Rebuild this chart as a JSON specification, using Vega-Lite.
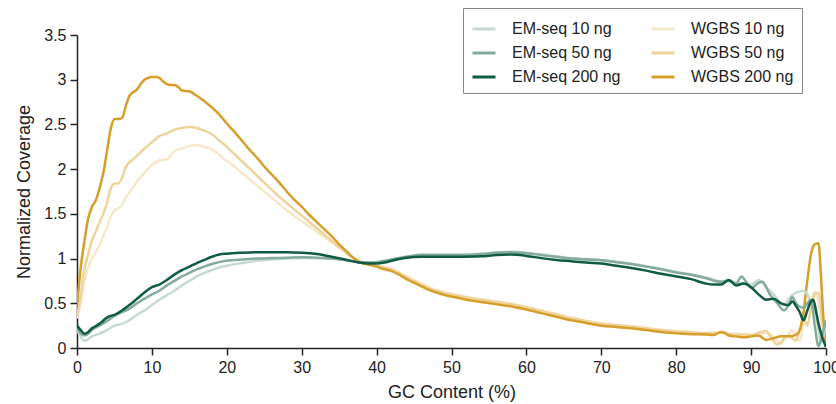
{
  "$schema": "https://vega.github.io/schema/vega-lite/v6.json",
  "width": 749,
  "height": 313,
  "autosize": {"type": "none"},
  "padding": {"left": 77, "top": 35, "right": 10, "bottom": 56},
  "background": "white",
  "config": {
    "font": "Liberation Sans",
    "view": {"stroke": null},
    "axis": {
      "grid": false,
      "domainColor": "#222",
      "domainWidth": 1.5,
      "tickColor": "#222",
      "tickWidth": 1.5,
      "tickSize": 7,
      "labelFontSize": 16,
      "labelColor": "#222",
      "titleFontSize": 18,
      "titleFontWeight": "normal",
      "titleColor": "#222",
      "labelFont": "Liberation Sans",
      "titleFont": "Liberation Sans",
      "labelFlush": false,
      "labelOverlap": false
    }
  },
  "data": {"values": [
    {"s":"WGBS 10 ng","x":0,"y":0.33},{"s":"WGBS 10 ng","x":0.5,"y":0.5},{"s":"WGBS 10 ng","x":1,"y":0.75},{"s":"WGBS 10 ng","x":1.5,"y":0.9},{"s":"WGBS 10 ng","x":2,"y":1.0},{"s":"WGBS 10 ng","x":2.5,"y":1.07},{"s":"WGBS 10 ng","x":3,"y":1.15},{"s":"WGBS 10 ng","x":3.5,"y":1.25},{"s":"WGBS 10 ng","x":4,"y":1.35},{"s":"WGBS 10 ng","x":4.5,"y":1.47},{"s":"WGBS 10 ng","x":5,"y":1.54},{"s":"WGBS 10 ng","x":5.5,"y":1.56},{"s":"WGBS 10 ng","x":6,"y":1.6},{"s":"WGBS 10 ng","x":6.5,"y":1.68},{"s":"WGBS 10 ng","x":7,"y":1.74},{"s":"WGBS 10 ng","x":7.5,"y":1.8},{"s":"WGBS 10 ng","x":8,"y":1.86},{"s":"WGBS 10 ng","x":9,"y":1.96},{"s":"WGBS 10 ng","x":10,"y":2.05},{"s":"WGBS 10 ng","x":11,"y":2.1},{"s":"WGBS 10 ng","x":12,"y":2.11},{"s":"WGBS 10 ng","x":13,"y":2.2},{"s":"WGBS 10 ng","x":14,"y":2.23},{"s":"WGBS 10 ng","x":15,"y":2.26},{"s":"WGBS 10 ng","x":16,"y":2.27},{"s":"WGBS 10 ng","x":17,"y":2.25},{"s":"WGBS 10 ng","x":18,"y":2.22},{"s":"WGBS 10 ng","x":19,"y":2.16},{"s":"WGBS 10 ng","x":20,"y":2.09},{"s":"WGBS 10 ng","x":21,"y":2.03},{"s":"WGBS 10 ng","x":22,"y":1.96},{"s":"WGBS 10 ng","x":23,"y":1.89},{"s":"WGBS 10 ng","x":24,"y":1.82},{"s":"WGBS 10 ng","x":25,"y":1.75},{"s":"WGBS 10 ng","x":26,"y":1.68},{"s":"WGBS 10 ng","x":27,"y":1.61},{"s":"WGBS 10 ng","x":28,"y":1.54},{"s":"WGBS 10 ng","x":29,"y":1.48},{"s":"WGBS 10 ng","x":30,"y":1.42},{"s":"WGBS 10 ng","x":31,"y":1.36},{"s":"WGBS 10 ng","x":32,"y":1.3},{"s":"WGBS 10 ng","x":33,"y":1.24},{"s":"WGBS 10 ng","x":34,"y":1.18},{"s":"WGBS 10 ng","x":35,"y":1.12},{"s":"WGBS 10 ng","x":36,"y":1.06},{"s":"WGBS 10 ng","x":37,"y":1.0},{"s":"WGBS 10 ng","x":38,"y":0.96},{"s":"WGBS 10 ng","x":39,"y":0.945},{"s":"WGBS 10 ng","x":40,"y":0.925},{"s":"WGBS 10 ng","x":41,"y":0.905},{"s":"WGBS 10 ng","x":42,"y":0.885},{"s":"WGBS 10 ng","x":43,"y":0.845},{"s":"WGBS 10 ng","x":44,"y":0.8},{"s":"WGBS 10 ng","x":45,"y":0.76},{"s":"WGBS 10 ng","x":46,"y":0.72},{"s":"WGBS 10 ng","x":47,"y":0.68},{"s":"WGBS 10 ng","x":48,"y":0.65},{"s":"WGBS 10 ng","x":49,"y":0.625},{"s":"WGBS 10 ng","x":50,"y":0.605},{"s":"WGBS 10 ng","x":52,"y":0.57},{"s":"WGBS 10 ng","x":54,"y":0.545},{"s":"WGBS 10 ng","x":56,"y":0.52},{"s":"WGBS 10 ng","x":58,"y":0.495},{"s":"WGBS 10 ng","x":60,"y":0.46},{"s":"WGBS 10 ng","x":62,"y":0.42},{"s":"WGBS 10 ng","x":64,"y":0.38},{"s":"WGBS 10 ng","x":66,"y":0.34},{"s":"WGBS 10 ng","x":68,"y":0.305},{"s":"WGBS 10 ng","x":70,"y":0.275},{"s":"WGBS 10 ng","x":72,"y":0.26},{"s":"WGBS 10 ng","x":74,"y":0.245},{"s":"WGBS 10 ng","x":76,"y":0.225},{"s":"WGBS 10 ng","x":78,"y":0.205},{"s":"WGBS 10 ng","x":80,"y":0.19},{"s":"WGBS 10 ng","x":82,"y":0.18},{"s":"WGBS 10 ng","x":84,"y":0.17},{"s":"WGBS 10 ng","x":86,"y":0.175},{"s":"WGBS 10 ng","x":87,"y":0.16},{"s":"WGBS 10 ng","x":88,"y":0.16},{"s":"WGBS 10 ng","x":89,"y":0.155},{"s":"WGBS 10 ng","x":90,"y":0.15},{"s":"WGBS 10 ng","x":91,"y":0.16},{"s":"WGBS 10 ng","x":92,"y":0.17},{"s":"WGBS 10 ng","x":93,"y":0.12},{"s":"WGBS 10 ng","x":94,"y":0.05},{"s":"WGBS 10 ng","x":94.5,"y":0.1},{"s":"WGBS 10 ng","x":95,"y":0.15},{"s":"WGBS 10 ng","x":95.5,"y":0.2},{"s":"WGBS 10 ng","x":96,"y":0.12},{"s":"WGBS 10 ng","x":96.5,"y":0.08},{"s":"WGBS 10 ng","x":97,"y":0.28},{"s":"WGBS 10 ng","x":97.5,"y":0.4},{"s":"WGBS 10 ng","x":98,"y":0.55},{"s":"WGBS 10 ng","x":98.5,"y":0.63},{"s":"WGBS 10 ng","x":99,"y":0.5},{"s":"WGBS 10 ng","x":99.5,"y":0.2},{"s":"WGBS 10 ng","x":100,"y":0.02},

    {"s":"WGBS 50 ng","x":0,"y":0.35},{"s":"WGBS 50 ng","x":0.5,"y":0.6},{"s":"WGBS 50 ng","x":1,"y":0.88},{"s":"WGBS 50 ng","x":1.5,"y":1.05},{"s":"WGBS 50 ng","x":2,"y":1.2},{"s":"WGBS 50 ng","x":2.5,"y":1.3},{"s":"WGBS 50 ng","x":3,"y":1.4},{"s":"WGBS 50 ng","x":3.5,"y":1.5},{"s":"WGBS 50 ng","x":4,"y":1.62},{"s":"WGBS 50 ng","x":4.5,"y":1.78},{"s":"WGBS 50 ng","x":5,"y":1.84},{"s":"WGBS 50 ng","x":5.5,"y":1.84},{"s":"WGBS 50 ng","x":6,"y":1.9},{"s":"WGBS 50 ng","x":6.5,"y":2.02},{"s":"WGBS 50 ng","x":7,"y":2.08},{"s":"WGBS 50 ng","x":7.5,"y":2.11},{"s":"WGBS 50 ng","x":8,"y":2.15},{"s":"WGBS 50 ng","x":9,"y":2.23},{"s":"WGBS 50 ng","x":10,"y":2.3},{"s":"WGBS 50 ng","x":11,"y":2.37},{"s":"WGBS 50 ng","x":12,"y":2.4},{"s":"WGBS 50 ng","x":13,"y":2.44},{"s":"WGBS 50 ng","x":14,"y":2.46},{"s":"WGBS 50 ng","x":15,"y":2.47},{"s":"WGBS 50 ng","x":16,"y":2.46},{"s":"WGBS 50 ng","x":17,"y":2.43},{"s":"WGBS 50 ng","x":18,"y":2.39},{"s":"WGBS 50 ng","x":19,"y":2.32},{"s":"WGBS 50 ng","x":20,"y":2.25},{"s":"WGBS 50 ng","x":21,"y":2.17},{"s":"WGBS 50 ng","x":22,"y":2.09},{"s":"WGBS 50 ng","x":23,"y":2.01},{"s":"WGBS 50 ng","x":24,"y":1.93},{"s":"WGBS 50 ng","x":25,"y":1.85},{"s":"WGBS 50 ng","x":26,"y":1.77},{"s":"WGBS 50 ng","x":27,"y":1.69},{"s":"WGBS 50 ng","x":28,"y":1.62},{"s":"WGBS 50 ng","x":29,"y":1.55},{"s":"WGBS 50 ng","x":30,"y":1.48},{"s":"WGBS 50 ng","x":31,"y":1.41},{"s":"WGBS 50 ng","x":32,"y":1.34},{"s":"WGBS 50 ng","x":33,"y":1.27},{"s":"WGBS 50 ng","x":34,"y":1.2},{"s":"WGBS 50 ng","x":35,"y":1.13},{"s":"WGBS 50 ng","x":36,"y":1.06},{"s":"WGBS 50 ng","x":37,"y":1.0},{"s":"WGBS 50 ng","x":38,"y":0.96},{"s":"WGBS 50 ng","x":39,"y":0.94},{"s":"WGBS 50 ng","x":40,"y":0.92},{"s":"WGBS 50 ng","x":41,"y":0.9},{"s":"WGBS 50 ng","x":42,"y":0.88},{"s":"WGBS 50 ng","x":43,"y":0.84},{"s":"WGBS 50 ng","x":44,"y":0.79},{"s":"WGBS 50 ng","x":45,"y":0.75},{"s":"WGBS 50 ng","x":46,"y":0.71},{"s":"WGBS 50 ng","x":47,"y":0.67},{"s":"WGBS 50 ng","x":48,"y":0.64},{"s":"WGBS 50 ng","x":49,"y":0.62},{"s":"WGBS 50 ng","x":50,"y":0.6},{"s":"WGBS 50 ng","x":52,"y":0.565},{"s":"WGBS 50 ng","x":54,"y":0.54},{"s":"WGBS 50 ng","x":56,"y":0.515},{"s":"WGBS 50 ng","x":58,"y":0.49},{"s":"WGBS 50 ng","x":60,"y":0.455},{"s":"WGBS 50 ng","x":62,"y":0.415},{"s":"WGBS 50 ng","x":64,"y":0.375},{"s":"WGBS 50 ng","x":66,"y":0.335},{"s":"WGBS 50 ng","x":68,"y":0.3},{"s":"WGBS 50 ng","x":70,"y":0.27},{"s":"WGBS 50 ng","x":72,"y":0.255},{"s":"WGBS 50 ng","x":74,"y":0.24},{"s":"WGBS 50 ng","x":76,"y":0.22},{"s":"WGBS 50 ng","x":78,"y":0.2},{"s":"WGBS 50 ng","x":80,"y":0.185},{"s":"WGBS 50 ng","x":82,"y":0.175},{"s":"WGBS 50 ng","x":84,"y":0.165},{"s":"WGBS 50 ng","x":86,"y":0.17},{"s":"WGBS 50 ng","x":87,"y":0.155},{"s":"WGBS 50 ng","x":88,"y":0.15},{"s":"WGBS 50 ng","x":89,"y":0.15},{"s":"WGBS 50 ng","x":90,"y":0.14},{"s":"WGBS 50 ng","x":91,"y":0.17},{"s":"WGBS 50 ng","x":92,"y":0.19},{"s":"WGBS 50 ng","x":92.5,"y":0.14},{"s":"WGBS 50 ng","x":93,"y":0.08},{"s":"WGBS 50 ng","x":93.5,"y":0.04},{"s":"WGBS 50 ng","x":94,"y":0.06},{"s":"WGBS 50 ng","x":94.5,"y":0.12},{"s":"WGBS 50 ng","x":95,"y":0.13},{"s":"WGBS 50 ng","x":95.5,"y":0.11},{"s":"WGBS 50 ng","x":96,"y":0.08},{"s":"WGBS 50 ng","x":96.5,"y":0.2},{"s":"WGBS 50 ng","x":97,"y":0.34},{"s":"WGBS 50 ng","x":97.5,"y":0.25},{"s":"WGBS 50 ng","x":98,"y":0.45},{"s":"WGBS 50 ng","x":98.5,"y":0.6},{"s":"WGBS 50 ng","x":99,"y":0.62},{"s":"WGBS 50 ng","x":99.5,"y":0.3},{"s":"WGBS 50 ng","x":100,"y":0.02},

    {"s":"WGBS 200 ng","x":0,"y":0.47},{"s":"WGBS 200 ng","x":0.5,"y":0.9},{"s":"WGBS 200 ng","x":1,"y":1.2},{"s":"WGBS 200 ng","x":1.5,"y":1.45},{"s":"WGBS 200 ng","x":2,"y":1.58},{"s":"WGBS 200 ng","x":2.5,"y":1.65},{"s":"WGBS 200 ng","x":3,"y":1.78},{"s":"WGBS 200 ng","x":3.5,"y":1.95},{"s":"WGBS 200 ng","x":4,"y":2.2},{"s":"WGBS 200 ng","x":4.5,"y":2.45},{"s":"WGBS 200 ng","x":5,"y":2.56},{"s":"WGBS 200 ng","x":5.5,"y":2.56},{"s":"WGBS 200 ng","x":6,"y":2.57},{"s":"WGBS 200 ng","x":6.5,"y":2.7},{"s":"WGBS 200 ng","x":7,"y":2.82},{"s":"WGBS 200 ng","x":7.5,"y":2.86},{"s":"WGBS 200 ng","x":8,"y":2.89},{"s":"WGBS 200 ng","x":8.5,"y":2.95},{"s":"WGBS 200 ng","x":9,"y":3.0},{"s":"WGBS 200 ng","x":9.5,"y":3.02},{"s":"WGBS 200 ng","x":10,"y":3.03},{"s":"WGBS 200 ng","x":10.5,"y":3.03},{"s":"WGBS 200 ng","x":11,"y":3.02},{"s":"WGBS 200 ng","x":11.5,"y":2.98},{"s":"WGBS 200 ng","x":12,"y":2.95},{"s":"WGBS 200 ng","x":12.5,"y":2.94},{"s":"WGBS 200 ng","x":13,"y":2.94},{"s":"WGBS 200 ng","x":13.5,"y":2.92},{"s":"WGBS 200 ng","x":14,"y":2.88},{"s":"WGBS 200 ng","x":15,"y":2.87},{"s":"WGBS 200 ng","x":16,"y":2.82},{"s":"WGBS 200 ng","x":17,"y":2.76},{"s":"WGBS 200 ng","x":18,"y":2.69},{"s":"WGBS 200 ng","x":19,"y":2.61},{"s":"WGBS 200 ng","x":20,"y":2.51},{"s":"WGBS 200 ng","x":21,"y":2.42},{"s":"WGBS 200 ng","x":22,"y":2.32},{"s":"WGBS 200 ng","x":23,"y":2.22},{"s":"WGBS 200 ng","x":24,"y":2.13},{"s":"WGBS 200 ng","x":25,"y":2.03},{"s":"WGBS 200 ng","x":26,"y":1.94},{"s":"WGBS 200 ng","x":27,"y":1.85},{"s":"WGBS 200 ng","x":28,"y":1.75},{"s":"WGBS 200 ng","x":29,"y":1.66},{"s":"WGBS 200 ng","x":30,"y":1.58},{"s":"WGBS 200 ng","x":31,"y":1.49},{"s":"WGBS 200 ng","x":32,"y":1.41},{"s":"WGBS 200 ng","x":33,"y":1.33},{"s":"WGBS 200 ng","x":34,"y":1.25},{"s":"WGBS 200 ng","x":35,"y":1.16},{"s":"WGBS 200 ng","x":36,"y":1.08},{"s":"WGBS 200 ng","x":37,"y":1.0},{"s":"WGBS 200 ng","x":38,"y":0.95},{"s":"WGBS 200 ng","x":39,"y":0.93},{"s":"WGBS 200 ng","x":40,"y":0.91},{"s":"WGBS 200 ng","x":41,"y":0.88},{"s":"WGBS 200 ng","x":42,"y":0.86},{"s":"WGBS 200 ng","x":43,"y":0.82},{"s":"WGBS 200 ng","x":44,"y":0.77},{"s":"WGBS 200 ng","x":45,"y":0.73},{"s":"WGBS 200 ng","x":46,"y":0.69},{"s":"WGBS 200 ng","x":47,"y":0.65},{"s":"WGBS 200 ng","x":48,"y":0.62},{"s":"WGBS 200 ng","x":49,"y":0.595},{"s":"WGBS 200 ng","x":50,"y":0.575},{"s":"WGBS 200 ng","x":52,"y":0.54},{"s":"WGBS 200 ng","x":54,"y":0.515},{"s":"WGBS 200 ng","x":56,"y":0.49},{"s":"WGBS 200 ng","x":58,"y":0.465},{"s":"WGBS 200 ng","x":60,"y":0.43},{"s":"WGBS 200 ng","x":62,"y":0.39},{"s":"WGBS 200 ng","x":64,"y":0.35},{"s":"WGBS 200 ng","x":66,"y":0.31},{"s":"WGBS 200 ng","x":68,"y":0.28},{"s":"WGBS 200 ng","x":70,"y":0.25},{"s":"WGBS 200 ng","x":72,"y":0.235},{"s":"WGBS 200 ng","x":74,"y":0.22},{"s":"WGBS 200 ng","x":76,"y":0.2},{"s":"WGBS 200 ng","x":78,"y":0.18},{"s":"WGBS 200 ng","x":80,"y":0.165},{"s":"WGBS 200 ng","x":82,"y":0.155},{"s":"WGBS 200 ng","x":84,"y":0.15},{"s":"WGBS 200 ng","x":85,"y":0.145},{"s":"WGBS 200 ng","x":86,"y":0.18},{"s":"WGBS 200 ng","x":86.5,"y":0.17},{"s":"WGBS 200 ng","x":87,"y":0.14},{"s":"WGBS 200 ng","x":88,"y":0.13},{"s":"WGBS 200 ng","x":89,"y":0.12},{"s":"WGBS 200 ng","x":90,"y":0.13},{"s":"WGBS 200 ng","x":91,"y":0.14},{"s":"WGBS 200 ng","x":92,"y":0.09},{"s":"WGBS 200 ng","x":93,"y":0.11},{"s":"WGBS 200 ng","x":94,"y":0.13},{"s":"WGBS 200 ng","x":95,"y":0.13},{"s":"WGBS 200 ng","x":96,"y":0.15},{"s":"WGBS 200 ng","x":96.5,"y":0.2},{"s":"WGBS 200 ng","x":97,"y":0.4},{"s":"WGBS 200 ng","x":97.5,"y":0.75},{"s":"WGBS 200 ng","x":98,"y":1.05},{"s":"WGBS 200 ng","x":98.5,"y":1.16},{"s":"WGBS 200 ng","x":99,"y":1.17},{"s":"WGBS 200 ng","x":99.3,"y":0.85},{"s":"WGBS 200 ng","x":99.6,"y":0.4},{"s":"WGBS 200 ng","x":100,"y":0.02},

    {"s":"EM-seq 10 ng","x":0,"y":0.2},{"s":"EM-seq 10 ng","x":0.5,"y":0.13},{"s":"EM-seq 10 ng","x":1,"y":0.08},{"s":"EM-seq 10 ng","x":1.5,"y":0.1},{"s":"EM-seq 10 ng","x":2,"y":0.13},{"s":"EM-seq 10 ng","x":3,"y":0.16},{"s":"EM-seq 10 ng","x":4,"y":0.2},{"s":"EM-seq 10 ng","x":5,"y":0.25},{"s":"EM-seq 10 ng","x":6,"y":0.27},{"s":"EM-seq 10 ng","x":7,"y":0.31},{"s":"EM-seq 10 ng","x":8,"y":0.37},{"s":"EM-seq 10 ng","x":9,"y":0.42},{"s":"EM-seq 10 ng","x":10,"y":0.48},{"s":"EM-seq 10 ng","x":11,"y":0.54},{"s":"EM-seq 10 ng","x":12,"y":0.59},{"s":"EM-seq 10 ng","x":13,"y":0.64},{"s":"EM-seq 10 ng","x":14,"y":0.7},{"s":"EM-seq 10 ng","x":15,"y":0.75},{"s":"EM-seq 10 ng","x":16,"y":0.8},{"s":"EM-seq 10 ng","x":17,"y":0.84},{"s":"EM-seq 10 ng","x":18,"y":0.87},{"s":"EM-seq 10 ng","x":19,"y":0.9},{"s":"EM-seq 10 ng","x":20,"y":0.92},{"s":"EM-seq 10 ng","x":22,"y":0.95},{"s":"EM-seq 10 ng","x":24,"y":0.975},{"s":"EM-seq 10 ng","x":26,"y":0.99},{"s":"EM-seq 10 ng","x":28,"y":1.0},{"s":"EM-seq 10 ng","x":30,"y":1.005},{"s":"EM-seq 10 ng","x":32,"y":1.005},{"s":"EM-seq 10 ng","x":34,"y":1.0},{"s":"EM-seq 10 ng","x":36,"y":0.98},{"s":"EM-seq 10 ng","x":37.5,"y":0.96},{"s":"EM-seq 10 ng","x":39,"y":0.955},{"s":"EM-seq 10 ng","x":40,"y":0.96},{"s":"EM-seq 10 ng","x":42,"y":0.99},{"s":"EM-seq 10 ng","x":44,"y":1.02},{"s":"EM-seq 10 ng","x":46,"y":1.045},{"s":"EM-seq 10 ng","x":48,"y":1.045},{"s":"EM-seq 10 ng","x":50,"y":1.045},{"s":"EM-seq 10 ng","x":52,"y":1.045},{"s":"EM-seq 10 ng","x":54,"y":1.055},{"s":"EM-seq 10 ng","x":56,"y":1.07},{"s":"EM-seq 10 ng","x":58,"y":1.075},{"s":"EM-seq 10 ng","x":60,"y":1.065},{"s":"EM-seq 10 ng","x":62,"y":1.045},{"s":"EM-seq 10 ng","x":64,"y":1.025},{"s":"EM-seq 10 ng","x":66,"y":1.005},{"s":"EM-seq 10 ng","x":68,"y":0.995},{"s":"EM-seq 10 ng","x":70,"y":0.985},{"s":"EM-seq 10 ng","x":72,"y":0.965},{"s":"EM-seq 10 ng","x":74,"y":0.945},{"s":"EM-seq 10 ng","x":76,"y":0.915},{"s":"EM-seq 10 ng","x":78,"y":0.885},{"s":"EM-seq 10 ng","x":80,"y":0.85},{"s":"EM-seq 10 ng","x":82,"y":0.825},{"s":"EM-seq 10 ng","x":84,"y":0.785},{"s":"EM-seq 10 ng","x":86,"y":0.745},{"s":"EM-seq 10 ng","x":87,"y":0.76},{"s":"EM-seq 10 ng","x":88,"y":0.73},{"s":"EM-seq 10 ng","x":89,"y":0.72},{"s":"EM-seq 10 ng","x":90,"y":0.71},{"s":"EM-seq 10 ng","x":91,"y":0.76},{"s":"EM-seq 10 ng","x":92,"y":0.68},{"s":"EM-seq 10 ng","x":93,"y":0.6},{"s":"EM-seq 10 ng","x":94,"y":0.5},{"s":"EM-seq 10 ng","x":94.5,"y":0.48},{"s":"EM-seq 10 ng","x":95,"y":0.55},{"s":"EM-seq 10 ng","x":96,"y":0.62},{"s":"EM-seq 10 ng","x":97,"y":0.64},{"s":"EM-seq 10 ng","x":97.5,"y":0.6},{"s":"EM-seq 10 ng","x":98,"y":0.5},{"s":"EM-seq 10 ng","x":98.5,"y":0.42},{"s":"EM-seq 10 ng","x":99,"y":0.2},{"s":"EM-seq 10 ng","x":99.3,"y":0.06},{"s":"EM-seq 10 ng","x":99.7,"y":0.15},{"s":"EM-seq 10 ng","x":100,"y":0.3},

    {"s":"EM-seq 50 ng","x":0,"y":0.22},{"s":"EM-seq 50 ng","x":0.5,"y":0.16},{"s":"EM-seq 50 ng","x":1,"y":0.14},{"s":"EM-seq 50 ng","x":1.5,"y":0.16},{"s":"EM-seq 50 ng","x":2,"y":0.2},{"s":"EM-seq 50 ng","x":3,"y":0.25},{"s":"EM-seq 50 ng","x":4,"y":0.3},{"s":"EM-seq 50 ng","x":5,"y":0.36},{"s":"EM-seq 50 ng","x":6,"y":0.4},{"s":"EM-seq 50 ng","x":7,"y":0.44},{"s":"EM-seq 50 ng","x":8,"y":0.5},{"s":"EM-seq 50 ng","x":9,"y":0.55},{"s":"EM-seq 50 ng","x":10,"y":0.6},{"s":"EM-seq 50 ng","x":11,"y":0.64},{"s":"EM-seq 50 ng","x":12,"y":0.7},{"s":"EM-seq 50 ng","x":13,"y":0.75},{"s":"EM-seq 50 ng","x":14,"y":0.8},{"s":"EM-seq 50 ng","x":15,"y":0.84},{"s":"EM-seq 50 ng","x":16,"y":0.88},{"s":"EM-seq 50 ng","x":17,"y":0.91},{"s":"EM-seq 50 ng","x":18,"y":0.94},{"s":"EM-seq 50 ng","x":19,"y":0.96},{"s":"EM-seq 50 ng","x":20,"y":0.975},{"s":"EM-seq 50 ng","x":22,"y":0.99},{"s":"EM-seq 50 ng","x":24,"y":1.0},{"s":"EM-seq 50 ng","x":26,"y":1.005},{"s":"EM-seq 50 ng","x":28,"y":1.01},{"s":"EM-seq 50 ng","x":30,"y":1.015},{"s":"EM-seq 50 ng","x":32,"y":1.01},{"s":"EM-seq 50 ng","x":34,"y":1.0},{"s":"EM-seq 50 ng","x":36,"y":0.98},{"s":"EM-seq 50 ng","x":37.5,"y":0.96},{"s":"EM-seq 50 ng","x":39,"y":0.955},{"s":"EM-seq 50 ng","x":40,"y":0.96},{"s":"EM-seq 50 ng","x":42,"y":0.99},{"s":"EM-seq 50 ng","x":44,"y":1.02},{"s":"EM-seq 50 ng","x":46,"y":1.04},{"s":"EM-seq 50 ng","x":48,"y":1.04},{"s":"EM-seq 50 ng","x":50,"y":1.04},{"s":"EM-seq 50 ng","x":52,"y":1.04},{"s":"EM-seq 50 ng","x":54,"y":1.05},{"s":"EM-seq 50 ng","x":56,"y":1.065},{"s":"EM-seq 50 ng","x":58,"y":1.07},{"s":"EM-seq 50 ng","x":60,"y":1.06},{"s":"EM-seq 50 ng","x":62,"y":1.04},{"s":"EM-seq 50 ng","x":64,"y":1.02},{"s":"EM-seq 50 ng","x":66,"y":1.0},{"s":"EM-seq 50 ng","x":68,"y":0.99},{"s":"EM-seq 50 ng","x":70,"y":0.98},{"s":"EM-seq 50 ng","x":72,"y":0.96},{"s":"EM-seq 50 ng","x":74,"y":0.94},{"s":"EM-seq 50 ng","x":76,"y":0.91},{"s":"EM-seq 50 ng","x":78,"y":0.88},{"s":"EM-seq 50 ng","x":80,"y":0.845},{"s":"EM-seq 50 ng","x":82,"y":0.82},{"s":"EM-seq 50 ng","x":84,"y":0.78},{"s":"EM-seq 50 ng","x":86,"y":0.74},{"s":"EM-seq 50 ng","x":87,"y":0.75},{"s":"EM-seq 50 ng","x":88,"y":0.72},{"s":"EM-seq 50 ng","x":88.7,"y":0.8},{"s":"EM-seq 50 ng","x":89.5,"y":0.72},{"s":"EM-seq 50 ng","x":90,"y":0.67},{"s":"EM-seq 50 ng","x":91,"y":0.73},{"s":"EM-seq 50 ng","x":91.5,"y":0.74},{"s":"EM-seq 50 ng","x":92.5,"y":0.6},{"s":"EM-seq 50 ng","x":93.5,"y":0.5},{"s":"EM-seq 50 ng","x":94.4,"y":0.42},{"s":"EM-seq 50 ng","x":95,"y":0.48},{"s":"EM-seq 50 ng","x":95.5,"y":0.57},{"s":"EM-seq 50 ng","x":96,"y":0.5},{"s":"EM-seq 50 ng","x":97,"y":0.45},{"s":"EM-seq 50 ng","x":97.5,"y":0.5},{"s":"EM-seq 50 ng","x":98,"y":0.54},{"s":"EM-seq 50 ng","x":98.5,"y":0.25},{"s":"EM-seq 50 ng","x":99,"y":0.02},{"s":"EM-seq 50 ng","x":99.5,"y":0.15},{"s":"EM-seq 50 ng","x":100,"y":0.31},

    {"s":"EM-seq 200 ng","x":0,"y":0.25},{"s":"EM-seq 200 ng","x":0.5,"y":0.2},{"s":"EM-seq 200 ng","x":1,"y":0.16},{"s":"EM-seq 200 ng","x":1.5,"y":0.18},{"s":"EM-seq 200 ng","x":2,"y":0.22},{"s":"EM-seq 200 ng","x":3,"y":0.27},{"s":"EM-seq 200 ng","x":4,"y":0.34},{"s":"EM-seq 200 ng","x":4.5,"y":0.36},{"s":"EM-seq 200 ng","x":5,"y":0.37},{"s":"EM-seq 200 ng","x":6,"y":0.42},{"s":"EM-seq 200 ng","x":7,"y":0.48},{"s":"EM-seq 200 ng","x":8,"y":0.55},{"s":"EM-seq 200 ng","x":9,"y":0.62},{"s":"EM-seq 200 ng","x":10,"y":0.68},{"s":"EM-seq 200 ng","x":11,"y":0.71},{"s":"EM-seq 200 ng","x":12,"y":0.76},{"s":"EM-seq 200 ng","x":13,"y":0.82},{"s":"EM-seq 200 ng","x":14,"y":0.87},{"s":"EM-seq 200 ng","x":15,"y":0.91},{"s":"EM-seq 200 ng","x":16,"y":0.95},{"s":"EM-seq 200 ng","x":17,"y":0.985},{"s":"EM-seq 200 ng","x":18,"y":1.02},{"s":"EM-seq 200 ng","x":19,"y":1.045},{"s":"EM-seq 200 ng","x":20,"y":1.055},{"s":"EM-seq 200 ng","x":22,"y":1.065},{"s":"EM-seq 200 ng","x":24,"y":1.07},{"s":"EM-seq 200 ng","x":26,"y":1.07},{"s":"EM-seq 200 ng","x":28,"y":1.07},{"s":"EM-seq 200 ng","x":30,"y":1.065},{"s":"EM-seq 200 ng","x":32,"y":1.05},{"s":"EM-seq 200 ng","x":34,"y":1.02},{"s":"EM-seq 200 ng","x":36,"y":0.985},{"s":"EM-seq 200 ng","x":37.5,"y":0.96},{"s":"EM-seq 200 ng","x":39,"y":0.945},{"s":"EM-seq 200 ng","x":40,"y":0.945},{"s":"EM-seq 200 ng","x":41,"y":0.955},{"s":"EM-seq 200 ng","x":42,"y":0.975},{"s":"EM-seq 200 ng","x":43,"y":0.995},{"s":"EM-seq 200 ng","x":44,"y":1.01},{"s":"EM-seq 200 ng","x":46,"y":1.02},{"s":"EM-seq 200 ng","x":48,"y":1.02},{"s":"EM-seq 200 ng","x":50,"y":1.02},{"s":"EM-seq 200 ng","x":52,"y":1.02},{"s":"EM-seq 200 ng","x":54,"y":1.025},{"s":"EM-seq 200 ng","x":56,"y":1.04},{"s":"EM-seq 200 ng","x":58,"y":1.045},{"s":"EM-seq 200 ng","x":60,"y":1.03},{"s":"EM-seq 200 ng","x":62,"y":1.005},{"s":"EM-seq 200 ng","x":64,"y":0.985},{"s":"EM-seq 200 ng","x":66,"y":0.97},{"s":"EM-seq 200 ng","x":68,"y":0.955},{"s":"EM-seq 200 ng","x":70,"y":0.945},{"s":"EM-seq 200 ng","x":72,"y":0.92},{"s":"EM-seq 200 ng","x":74,"y":0.895},{"s":"EM-seq 200 ng","x":76,"y":0.865},{"s":"EM-seq 200 ng","x":78,"y":0.83},{"s":"EM-seq 200 ng","x":80,"y":0.8},{"s":"EM-seq 200 ng","x":82,"y":0.77},{"s":"EM-seq 200 ng","x":84,"y":0.72},{"s":"EM-seq 200 ng","x":85,"y":0.71},{"s":"EM-seq 200 ng","x":86,"y":0.71},{"s":"EM-seq 200 ng","x":87,"y":0.76},{"s":"EM-seq 200 ng","x":88,"y":0.7},{"s":"EM-seq 200 ng","x":89,"y":0.72},{"s":"EM-seq 200 ng","x":90,"y":0.68},{"s":"EM-seq 200 ng","x":91,"y":0.6},{"s":"EM-seq 200 ng","x":92,"y":0.54},{"s":"EM-seq 200 ng","x":93,"y":0.55},{"s":"EM-seq 200 ng","x":94,"y":0.5},{"s":"EM-seq 200 ng","x":95,"y":0.48},{"s":"EM-seq 200 ng","x":95.5,"y":0.52},{"s":"EM-seq 200 ng","x":96,"y":0.47},{"s":"EM-seq 200 ng","x":96.5,"y":0.4},{"s":"EM-seq 200 ng","x":97,"y":0.31},{"s":"EM-seq 200 ng","x":97.5,"y":0.42},{"s":"EM-seq 200 ng","x":98,"y":0.52},{"s":"EM-seq 200 ng","x":98.3,"y":0.54},{"s":"EM-seq 200 ng","x":98.7,"y":0.4},{"s":"EM-seq 200 ng","x":99,"y":0.27},{"s":"EM-seq 200 ng","x":99.5,"y":0.12},{"s":"EM-seq 200 ng","x":100,"y":0.01}
  ]},
  "mark": {"type": "line", "strokeWidth": 2.5, "interpolate": "monotone", "clip": true},
  "encoding": {
    "x": {
      "field": "x", "type": "quantitative",
      "scale": {"domain": [0, 100], "nice": false},
      "axis": {"title": "GC Content (%)", "values": [0,10,20,30,40,50,60,70,80,90,100], "labelPadding": 4, "titlePadding": 8}
    },
    "y": {
      "field": "y", "type": "quantitative",
      "scale": {"domain": [0, 3.5], "nice": false},
      "axis": {"title": "Normalized Coverage", "values": [0,0.5,1,1.5,2,2.5,3,3.5], "format": "~g", "labelPadding": 4, "titlePadding": 10}
    },
    "color": {
      "field": "s", "type": "nominal",
      "scale": {
        "domain": ["EM-seq 10 ng", "EM-seq 50 ng", "EM-seq 200 ng", "WGBS 10 ng", "WGBS 50 ng", "WGBS 200 ng"],
        "range": ["#c5dbd2", "#85ab9b", "#0f5b43", "#f7e8cc", "#efd39d", "#d59f2a"]
      },
      "legend": {
        "title": null,
        "orient": "none",
        "legendX": 386,
        "legendY": -27,
        "columns": 2,
        "strokeColor": "#888",
        "padding": 8,
        "labelFontSize": 16,
        "labelFont": "Liberation Sans",
        "labelColor": "#222",
        "columnPadding": 24,
        "rowPadding": 3,
        "labelOffset": 15,
        "symbolType": "stroke",
        "symbolStrokeWidth": 3,
        "symbolSize": 529
      }
    },
    "order": {"field": "x", "type": "quantitative"}
  }
}
